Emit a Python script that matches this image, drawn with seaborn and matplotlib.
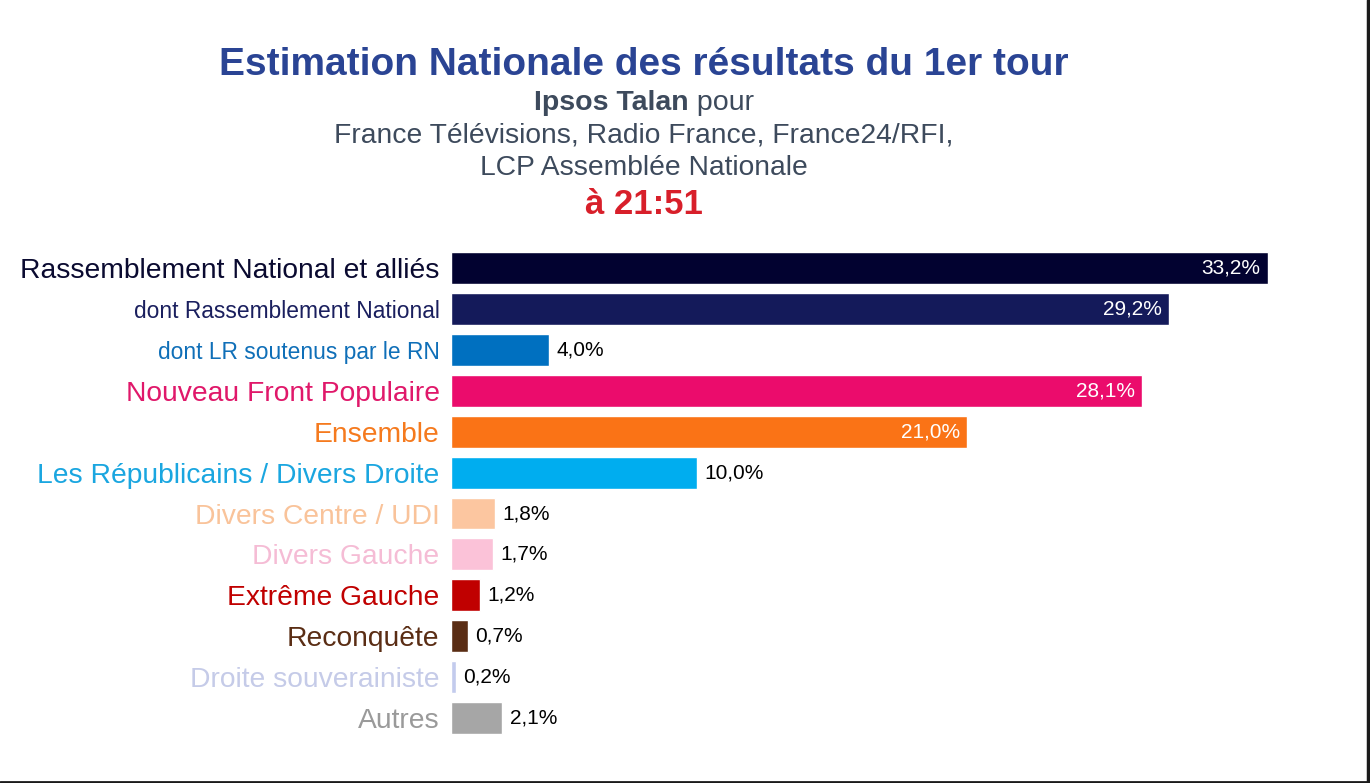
"""Estimation nationale des résultats du 1er tour (Ipsos Talan)."""
import matplotlib
matplotlib.use("Agg")
import matplotlib.pyplot as plt
from matplotlib.lines import Line2D
import pandas as pd
import seaborn as sns

partis = [
    "Rassemblement National et alliés",
    "dont Rassemblement National",
    "dont LR soutenus par le RN",
    "Nouveau Front Populaire",
    "Ensemble",
    "Les Républicains / Divers Droite",
    "Divers Centre / UDI",
    "Divers Gauche",
    "Extrême Gauche",
    "Reconquête",
    "Droite souverainiste",
    "Autres",
]
scores = [33.2, 29.2, 4.0, 28.1, 21.0, 10.0, 1.8, 1.7, 1.2, 0.7, 0.2, 2.1]
couleurs_barres = [
    "#020230", "#141a5a", "#0070c0", "#eb0c6c", "#fa7316", "#00adef",
    "#fcc6a0", "#fbc2d8", "#c00000", "#5a2d14", "#c3cbed", "#a6a6a6",
]
couleurs_textes = [
    "#0a0a30", "#1a1f5e", "#0f6fb8", "#e0186a", "#f57a1e", "#1aa6e0",
    "#f9c39a", "#f5bcd5", "#c00000", "#5a2d14", "#c5cbe8", "#9a9a9a",
]
tailles_textes = [20.3, 16.4, 16.4, 20.3, 20.3, 20.3, 20.3, 20.3, 20.3,
                  20.3, 20.3, 20.3]
seuil_interieur = 20

sns.set_theme(style="white")
plt.rcParams['font.family'] = ['Liberation Sans', 'DejaVu Sans']

df = pd.DataFrame({'parti': partis, 'score': scores})

fig = plt.figure(figsize=(13.7, 7.83), dpi=100)
ax = fig.add_axes([0.329, 0.0568, 0.671, 0.627])
sns.barplot(data=df, y='parti', x='score', hue='parti',
            palette=dict(zip(partis, couleurs_barres)), saturation=1,
            width=0.78, legend=False, ax=ax)

ax.set_xlim(0, 37.36)
ax.set_ylim(len(partis) - 0.5, -0.5)
ax.set_xlabel('')
ax.set_ylabel('')
ax.set_xticks([])
sns.despine(ax=ax, left=True, bottom=True)
ax.tick_params(axis='y', length=0, pad=8)

for lab, col, taille in zip(ax.get_yticklabels(), couleurs_textes, tailles_textes):
    lab.set_color(col)
    lab.set_fontsize(taille)
    lab.set_va('center_baseline')

for i, v in enumerate(scores):
    txt = f"{v:.1f}%".replace('.', ',')
    if v > seuil_interieur:
        ax.text(v - 0.3, i, txt, ha='right', va='center',
                color='white', fontsize=15)
    else:
        ax.text(v + 0.3, i, txt, ha='left', va='center',
                color='black', fontsize=15)

# titres
cx = 0.470
fig.text(cx, 1 - 65 / 783, "Estimation Nationale des résultats du 1er tour",
         ha='center', va='center', fontsize=28, fontweight='bold',
         color='#2a4494')

t1 = fig.text(0, 1 - 103 / 783, "Ipsos Talan", ha='left', va='center',
              fontsize=20.5, fontweight='bold', color='#3d4a5c')
t2 = fig.text(0, 1 - 103 / 783, " pour", ha='left', va='center',
              fontsize=20.5, color='#3d4a5c')
fig.canvas.draw()
r = fig.canvas.get_renderer()
w1 = t1.get_window_extent(r).width / fig.bbox.width
w2 = t2.get_window_extent(r).width / fig.bbox.width
x0 = cx - (w1 + w2) / 2
t1.set_x(x0)
t2.set_x(x0 + w1)

fig.text(cx, 1 - 135 / 783,
         "France Télévisions, Radio France, France24/RFI,",
         ha='center', va='center', fontsize=20.3, color='#3d4a5c')
fig.text(cx, 1 - 168 / 783, "LCP Assemblée Nationale",
         ha='center', va='center', fontsize=20.3, color='#3d4a5c')
fig.text(cx, 1 - 205 / 783, "à 21:51", ha='center', va='center',
         fontsize=25, fontweight='bold', color='#d81f2a')

# cadre sombre à droite et en bas
fig.add_artist(Line2D([0.9985, 0.9985], [0, 1], color='#1a1a1a', lw=2.5,
                      transform=fig.transFigure))
fig.add_artist(Line2D([0, 1], [0.0015, 0.0015], color='#1a1a1a', lw=2,
                      transform=fig.transFigure))

fig.savefig('out.png', dpi=100)
